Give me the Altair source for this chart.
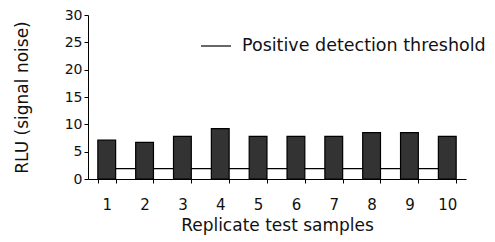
import altair as alt
import pandas as pd

samples = ["1", "2", "3", "4", "5", "6", "7", "8", "9", "10"]
rlu = [7.1, 6.7, 7.8, 9.2, 7.8, 7.8, 7.8, 8.5, 8.5, 7.8]
threshold = [1.9] * 10
legend_label = ["Positive detection threshold"] * 10

df = pd.DataFrame({"sample": samples, "rlu": rlu, "thr": threshold, "series": legend_label})

FONT = "DejaVu Sans"

x = alt.X("sample:N", sort=samples, title="Replicate test samples",
          scale=alt.Scale(paddingInner=0.53, paddingOuter=0.26),
          axis=alt.Axis(labelAngle=0, tickBand="extent", tickSize=4, labelPadding=14,
                        labelFontSize=15, titleFontSize=17, titlePadding=5,
                        domainColor="black", tickColor="black", labelColor="#111",
                        titleColor="#111", labelFont=FONT, titleFont=FONT, titleFontWeight="normal"))

yaxis = alt.Axis(values=[0, 5, 10, 15, 20, 25, 30], grid=False, tickSize=4, labelPadding=2,
                 labelFontSize=14, titleFontSize=17, titlePadding=33,
                 domainColor="black", tickColor="black", labelColor="#111",
                 titleColor="#111", labelFont=FONT, titleFont=FONT, titleFontWeight="normal")
yscale = alt.Scale(domain=[0, 30], nice=False)

line = alt.Chart(df).mark_line(strokeWidth=1.2).encode(
    x=x,
    y=alt.Y("thr:Q", title="RLU (signal noise)", scale=yscale, axis=yaxis),
    color=alt.Color("series:N", scale=alt.Scale(range=["black"]), title=None,
                    legend=alt.Legend(orient="none", legendX=112, legendY=15,
                                      symbolType="stroke", symbolSize=900, symbolStrokeWidth=1.2,
                                      labelFontSize=17.5, labelFont=FONT, labelColor="#111",
                                      labelOffset=10, labelLimit=0)),
)

bars = alt.Chart(df).mark_bar(color="#333333", stroke="black", strokeWidth=1.2).encode(
    x=x,
    y=alt.Y("rlu:Q", title="RLU (signal noise)", scale=yscale, axis=yaxis),
)

chart = alt.layer(line, bars).properties(
    width=378, height=164,
    autosize=alt.AutoSizeParams(type="none"),
    padding={"left": 80, "top": 7, "right": 20, "bottom": 62},
).configure_view(stroke=None).configure_axis(grid=False)

chart.save("out.html", embed_options={"renderer": "svg", "actions": False})
